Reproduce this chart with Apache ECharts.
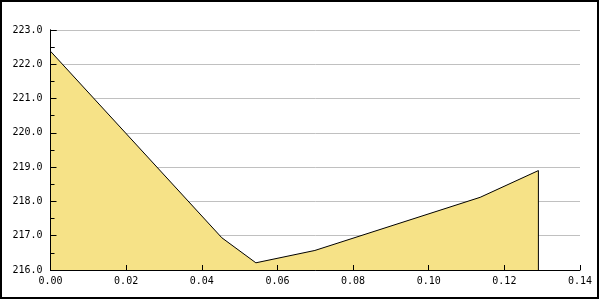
<!DOCTYPE html>
<html><head><meta charset="utf-8">
<script src="https://cdn.jsdelivr.net/npm/echarts@6/dist/echarts.min.js"></script>
<style>html,body{margin:0;padding:0;background:#fff}#c{width:600px;height:300px}</style>
</head><body><div id="c"></div>
<script>
const xValues = [0.0, 0.0453, 0.0543, 0.0699, 0.1136, 0.129];
const yValues = [222.38, 216.94, 216.21, 216.57, 218.12, 218.90];
const yMin = 216, yMax = 223, yStep = 1;
const xMin = 0, xMax = 0.14, xStep = 0.02;

const pts = xValues.map((x, i) => [x, yValues[i]]);
const last = pts[pts.length - 1];
const edge = [[last[0], yMin], [last[0], last[1]]];
const font = 'DejaVu Sans Mono';
const chart = echarts.init(document.getElementById('c'), null, {renderer: 'canvas'});
const yBase = {
  type: 'value', min: yMin, max: yMax, interval: yStep,
  axisLine: {show: true, lineStyle: {color: '#000', width: 1}},
  axisTick: {show: true, inside: true, length: 6, lineStyle: {color: '#000'}},
  minorTick: {show: true, splitNumber: 2, length: 4, lineStyle: {color: '#000'}}
};
chart.setOption({
  animation: false,
  backgroundColor: '#fff',
  graphic: [{type: 'rect', shape: {x: 1, y: 1, width: 597, height: 297}, style: {fill: 'none', stroke: '#000', lineWidth: 2}, z: 100}],
  grid: {left: 50.5, right: 20, top: 30, bottom: 30},
  xAxis: {
    type: 'value', min: xMin, max: xMax, interval: xStep, z: 10,
    axisLine: {show: true, lineStyle: {color: '#000', width: 1}},
    axisTick: {show: true, inside: true, length: 5, lineStyle: {color: '#000'}},
    axisLabel: {color: '#000', fontFamily: font, fontSize: 10, margin: 6, formatter: v => v.toFixed(2)},
    splitLine: {show: false}
  },
  yAxis: [Object.assign({}, yBase, {
    z: 0,
    axisLabel: {color: '#000', fontFamily: font, fontSize: 10, margin: 8, formatter: v => v.toFixed(1)},
    splitLine: {show: true, lineStyle: {color: '#c0c0c0', width: 1}}
  }), Object.assign({}, yBase, {
    z: 10, position: 'left',
    axisLabel: {show: false},
    splitLine: {show: false}
  })],
  series: [{
    type: 'line', data: pts, symbol: 'none',
    lineStyle: {color: '#000', width: 1},
    areaStyle: {color: '#f6e287', opacity: 1, origin: 'start'}
  }, {
    type: 'line', data: edge, symbol: 'none',
    lineStyle: {color: '#000', width: 1}
  }]
});
</script></body></html>
